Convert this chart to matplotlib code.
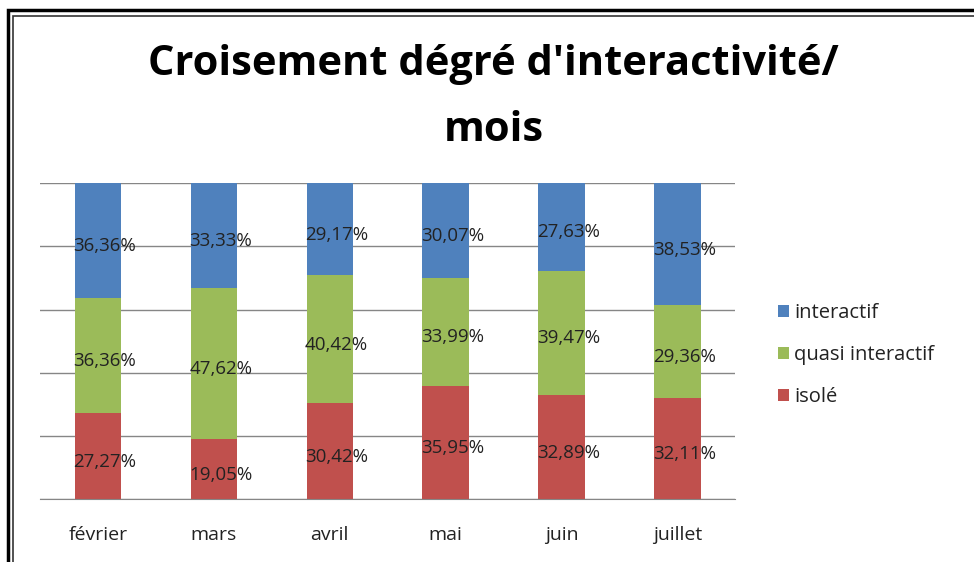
import numpy as np
import matplotlib.pyplot as plt
from matplotlib.patches import Rectangle

mois = ['février', 'mars', 'avril', 'mai', 'juin', 'juillet']
isole = [27.27, 19.05, 30.42, 35.95, 32.89, 32.11]
quasi = [36.36, 47.62, 40.42, 33.99, 39.47, 29.36]
interactif = [36.36, 33.33, 29.17, 30.07, 27.63, 38.53]

c_blue = '#4F81BD'
c_green = '#9BBB59'
c_red = '#C0504D'

plt.rcParams['font.family'] = ['Open Sans', 'DejaVu Sans']

fig = plt.figure(figsize=(9.74, 5.62), dpi=100)
ax = fig.add_axes([0.041, 0.112, 0.714, 0.562])

x = np.arange(len(mois))
w = 0.4
isole = np.array(isole)
quasi = np.array(quasi)
interactif = np.array(interactif)

b1 = ax.bar(x, isole, w, color=c_red, label='isolé', zorder=2)
b2 = ax.bar(x, quasi, w, bottom=isole, color=c_green, label='quasi interactif', zorder=2)
b3 = ax.bar(x, interactif, w, bottom=isole + quasi, color=c_blue, label='interactif', zorder=2)

for vals, bots in [(isole, np.zeros(6)), (quasi, isole), (interactif, isole + quasi)]:
    for xi, v, b in zip(x, vals, bots):
        ax.annotate(f'{v:.2f}%'.replace('.', ','), (xi, b + v / 2), xytext=(5, -4),
                    textcoords='offset points', ha='center', va='center',
                    fontsize=13.5, color='#222222', zorder=3)

ax.set_xlim(-0.5, 5.5)
ax.set_ylim(0, 100)
ax.set_yticks([0, 20, 40, 60, 80, 100])
ax.yaxis.grid(True, color='#868686', lw=1, zorder=1)
ax.tick_params(left=False, labelleft=False, bottom=False)
ax.set_xticks(x)
ax.set_xticklabels(mois, fontsize=14, color='#222222')
ax.tick_params(axis='x', pad=16)
for s in ['top', 'right', 'left']:
    ax.spines[s].set_visible(False)
ax.spines['bottom'].set_color('#868686')

handles = [b3, b2, b1]
ax.legend(handles, [h.get_label() for h in handles], loc='center left',
          bbox_to_anchor=(1.035, 0.455), frameon=False, fontsize=14.5,
          handlelength=0.55, handleheight=0.55, handletextpad=0.25, labelspacing=1.1,
          labelcolor='#222222')

fig.text(0.507, 0.885, "Croisement dégré d'interactivité/", ha='center', va='center',
         fontsize=30, fontweight='bold', color='black')
fig.text(0.507, 0.768, 'mois', ha='center', va='center',
         fontsize=30, fontweight='bold', color='black')

# cadre
fig.patches.append(Rectangle((8 / 974, -0.1), 1.2, 1 - 10 / 562 + 0.1, transform=fig.transFigure,
                             fill=False, edgecolor='black', lw=2.5))
fig.patches.append(Rectangle((13 / 974, -0.1), 1.2, 1 - 16 / 562 + 0.1, transform=fig.transFigure,
                             fill=False, edgecolor='#333333', lw=1.2))

fig.savefig('out.png', dpi=100)
